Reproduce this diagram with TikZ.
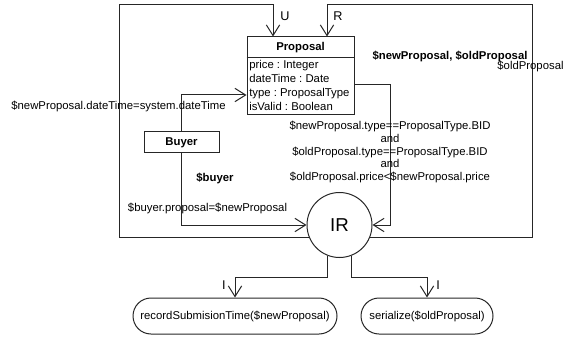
\documentclass[tikz,border=0pt]{standalone}
\usepackage{fontspec}
\setmainfont{Liberation Sans}
\usetikzlibrary{arrows.meta}
\frenchspacing
\begin{document}
\begin{tikzpicture}[x=0.75pt,y=-0.75pt,
  every node/.style={font=\fontsize{8.5}{10}\selectfont, inner sep=0pt, text height=6.3pt, text depth=1.7pt},
  line/.style={line width=0.75pt, draw=black!85},
  arr/.style={line width=0.75pt, draw=black!85, -{Straight Barb[length=8pt,width=10pt,line width=0.75pt]}},
  classbox/.style={draw=black!85, line width=0.75pt, rectangle},
  actbox/.style={draw=black!85, line width=0.75pt, rectangle, rounded corners=13.5pt, minimum height=27pt},
  lbl/.style={font=\fontsize{8.5}{10}\selectfont\frenchspacing},
  blbl/.style={font=\fontsize{8.5}{10}\selectfont\bfseries}]
\useasboundingbox (0,0) rectangle (566,338);

% nodes
\node[classbox, minimum width=80.25pt, minimum height=58.5pt] (prop) at (300.5,76) {};
\node[blbl] (propname) at (300.5,47) {Proposal};
\draw[line] ([yshift=-15.75pt]prop.north west) -- ([yshift=-15.75pt]prop.north east);
\node[lbl, anchor=west] (a1) at (249,65) {price : Integer};
\node[lbl, anchor=west] (a2) at (249,79) {dateTime : Date};
\node[lbl, anchor=west] (a3) at (249,93) {type : ProposalType};
\node[lbl, anchor=west] (a4) at (249,107) {isValid : Boolean};

\node[classbox, minimum width=56.25pt, minimum height=15.75pt, font=\fontsize{8.5}{10}\selectfont\bfseries] (buyer) at (181.5,142.5) {Buyer};

\node[draw=black!85, line width=0.75pt, circle, minimum size=48.75pt, font=\fontsize{14}{16}\selectfont, text height=10pt, text depth=0pt] (IR) at (339.5,225) {IR};

\node[actbox, minimum width=153pt] (rec) at (235,316) {recordSubmisionTime(\$newProposal)};
\node[actbox, minimum width=99pt] (ser) at (427,316) {serialize(\$oldProposal)};

% helper coordinates
\coordinate (uL) at (119,5);
\coordinate (uR) at (273,5);
\coordinate (rR) at (532,5);
\coordinate (rL) at (327,5);
\coordinate (bp) at (0,95);
\coordinate (pr) at (390,85);
\coordinate (bl) at (0,277);

% connectors
\draw[arr] (IR.202) -| (uL) -- (uR) -- (uR |- prop.north);
\draw[arr] (IR.338) -| (rR) -- (rL) -- (rL |- prop.north);
\draw[arr] (buyer.north) |- (prop.west |- bp);
\draw[arr] (buyer.south) |- (IR.west);
\draw[arr] (prop.east |- pr) -| (pr |- IR.east) -- (IR.east);
\draw[arr] (IR.248) |- (rec.north |- bl) -- (rec.north);
\draw[arr] (IR.292) |- (ser.north |- bl) -- (ser.north);

% labels
\node[lbl, font=\fontsize{9.5}{11}\selectfont] (lU) at (285,17) {U};
\node[lbl, font=\fontsize{9.5}{11}\selectfont] (lR) at (338,17) {R};
\node[blbl] (lnp) at (450,56) {\$newProposal, \$oldProposal};
\node[lbl] (lop) at (530.5,66) {\$oldProposal};
\node[lbl] (ldt) at (118.5,106) {\$newProposal.dateTime=system.dateTime};
\node[blbl] (lb) at (215,178) {\$buyer};
\node[lbl] (lbp) at (207.5,208) {\$buyer.proposal=\$newProposal};
\node[lbl, align=center, font=\fontsize{8.5}{9.4}\selectfont, text height=, text depth=] (cond) at (390,152)
  {\$newProposal.type==ProposalType.BID\\and\\\$oldProposal.type==ProposalType.BID\\and\\\$oldProposal.price<\$newProposal.price};
\node[lbl, font=\fontsize{9.5}{11}\selectfont] (lI1) at (224,286) {I};
\node[lbl, font=\fontsize{9.5}{11}\selectfont] (lI2) at (438,286) {I};
\end{tikzpicture}
\end{document}
